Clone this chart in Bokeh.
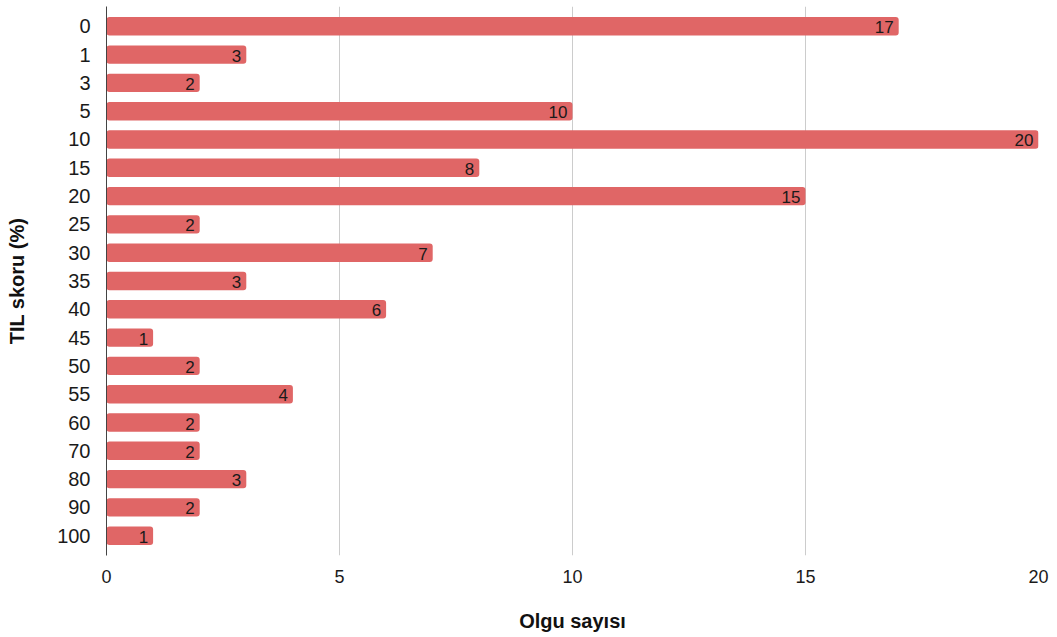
from bokeh.plotting import figure
from bokeh.models import ColumnDataSource, FactorRange, Range1d, FixedTicker
from bokeh.core.properties import value
from bokeh.embed import file_html
from bokeh.resources import INLINE

categories = ["0", "1", "3", "5", "10", "15", "20", "25", "30", "35", "40",
              "45", "50", "55", "60", "70", "80", "90", "100"]
counts = [17, 3, 2, 10, 20, 8, 15, 2, 7, 3, 6, 1, 2, 4, 2, 2, 3, 2, 1]
x_ticks = [0, 5, 10, 15, 20]

FONT = "Liberation Sans"
BAR_COLOR = "#e06666"

src = ColumnDataSource(dict(cat=categories, n=counts, lbl=[str(v) for v in counts]))

p = figure(
    width=1057, height=637,
    y_range=FactorRange(factors=list(reversed(categories)), range_padding=0.021,
                        range_padding_units="percent"),
    x_range=Range1d(0, 20),
    output_backend="svg", toolbar_location=None,
    min_border_left=106, min_border_right=19, min_border_top=6, min_border_bottom=82,
)
p.outline_line_color = None
p.background_fill_color = "white"
p.border_fill_color = "white"

p.hbar(y="cat", right="n", left=0, height=0.65, source=src,
       fill_color=BAR_COLOR, line_color=None, border_radius=3)

p.text(x="n", y="cat", text="lbl", source=src, text_align="right",
       text_baseline="middle", x_offset=-5, y_offset=1,
       text_font=value(FONT), text_font_size="17px", text_color="#1a1a1a")

# grids
p.ygrid.grid_line_color = None
p.xgrid.grid_line_color = "#cccccc"
p.xgrid.grid_line_width = 1
p.xgrid.ticker = FixedTicker(ticks=x_ticks)

# x axis
xa = p.xaxis[0]
xa.ticker = FixedTicker(ticks=x_ticks)
xa.axis_line_color = None
xa.major_tick_line_color = None
xa.minor_tick_line_color = None
xa.major_label_standoff = 8
xa.major_label_text_font = FONT
xa.major_label_text_font_size = "18px"
xa.major_label_text_color = "#1a1a1a"
xa.axis_label = "Olgu sayısı"
xa.axis_label_text_font = FONT
xa.axis_label_text_font_size = "20px"
xa.axis_label_text_font_style = "bold"
xa.axis_label_text_color = "#111111"
xa.axis_label_standoff = 24

# y axis
ya = p.yaxis[0]
ya.axis_line_color = "#444444"
ya.axis_line_width = 1
ya.major_tick_line_color = None
ya.minor_tick_line_color = None
ya.major_label_standoff = 10
ya.major_label_text_font = FONT
ya.major_label_text_font_size = "20px"
ya.major_label_text_color = "#1a1a1a"
ya.axis_label = "TIL skoru (%)"
ya.axis_label_text_font = FONT
ya.axis_label_text_font_size = "20px"
ya.axis_label_text_font_style = "bold"
ya.axis_label_text_color = "#111111"
ya.axis_label_standoff = 26

open("out.html", "w").write(file_html(p, INLINE))
